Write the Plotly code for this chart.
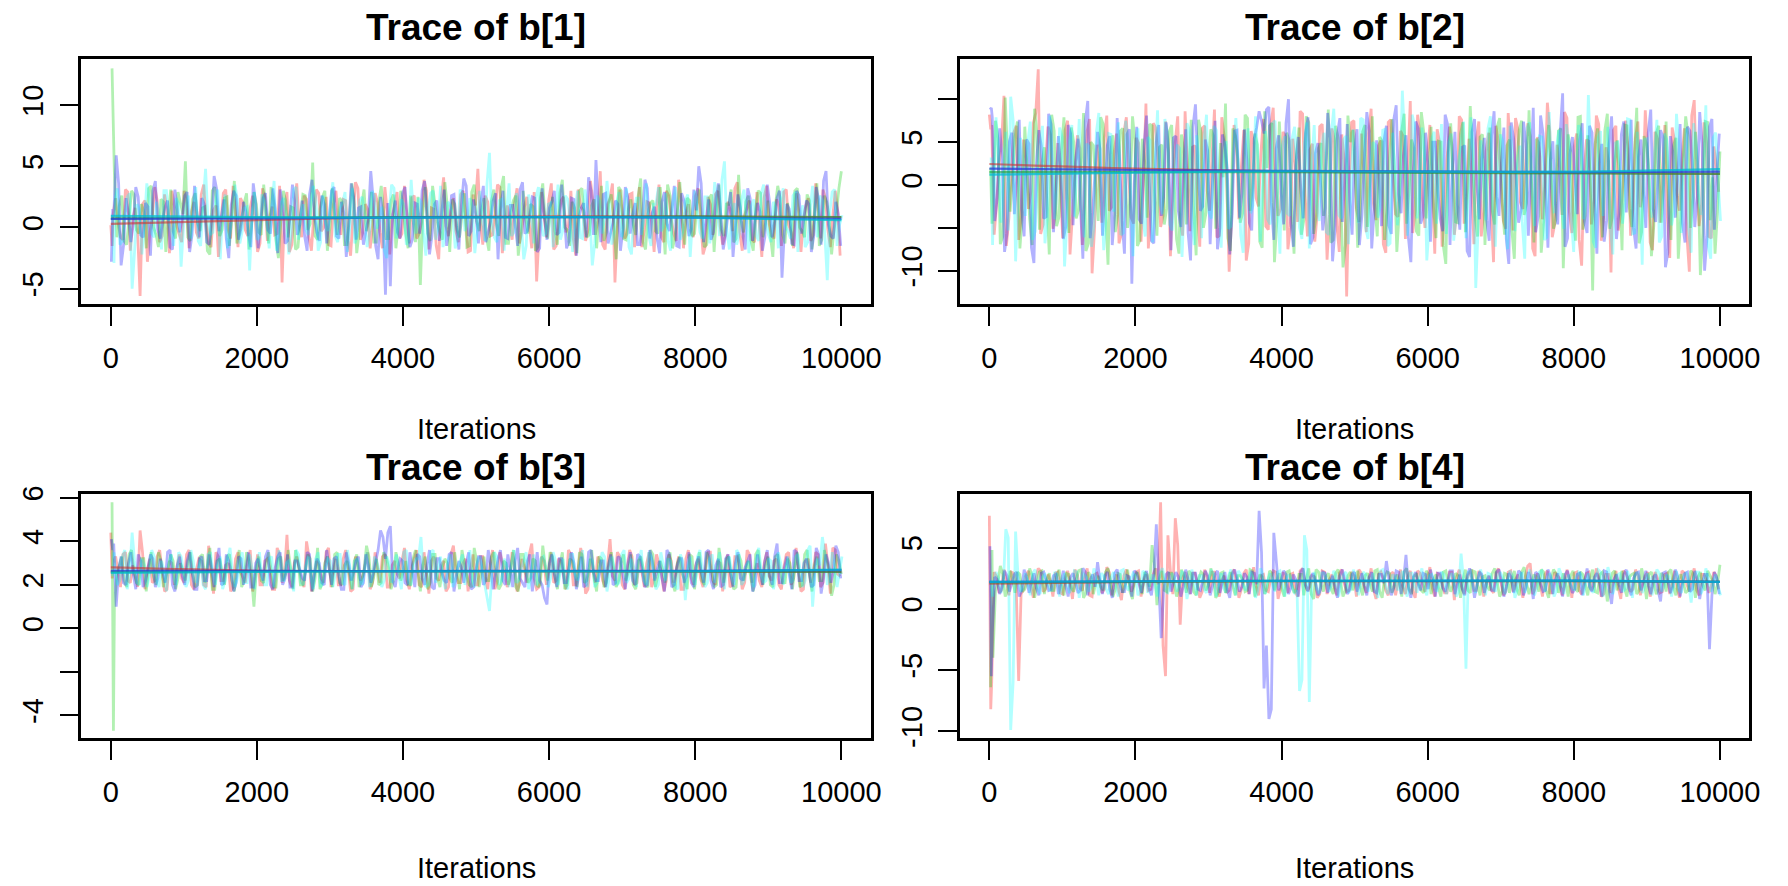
import plotly.graph_objects as go

W, H = 1788, 886

# thinned iteration positions of the stored draws (two interleaved thinning grids per chain)
base_iterations = [1, 20] + list(range(67, 10001, 67))
mid_iterations = list(range(33, 10001, 67))
chain_phase = [0, 17, 8, 25]

chain_colors = ["rgba(255,0,0,0.3)", "rgba(0,205,0,0.3)", "rgba(0,0,255,0.3)", "rgba(0,255,255,0.3)"]
smooth_colors = ["rgba(205,50,50,0.6)", "rgba(20,160,60,0.6)", "rgba(0,190,210,0.75)", "rgba(40,60,220,0.75)"]
smooth_order = [0, 1, 3, 2]

# ---------------- b[1] ----------------
b1_chain1 = [0.2, -1.5, 2.4, -0.8, 3.1, -1.9, 1.6, -5.6, 2.2, -0.4, 3.3, -1.2, 2.7, -2.1, 1.8, -0.6,
             3.0, -1.7, 2.1, -0.9, 3.5, -1.3, 1.4, -2.4, 2.8, -0.2, 3.4, -1.6, 2.0, -0.7, 2.6,
             -2.0, 3.2, -1.1, 1.7, -0.5, -4.5, 2.9, -1.4, 3.6, -0.8, 2.3, -1.9, 3.1, -0.3, 2.5,
             -1.5, 3.0, -0.6, 2.2, -2.3, 3.7, -1.0, 1.9, -1.7, 2.8, -0.4, 3.3, -2.2, 2.0, -0.9,
             3.4, -1.3, 2.6, -0.5, 3.9, -1.8, 1.5, -2.6, 4.1, -0.7, 2.4, -1.2, 3.0, -2.0, 2.7,
             4.8, -1.4, 2.1, -0.6, 3.5, -2.1, 1.8, -1.0, 3.2, -0.3, 2.5, -1.7, -4.4, 2.9, -0.8,
             3.6, -1.5, 2.2, -0.4, 3.0, -2.3, 1.7, -1.1, 3.8, -0.6, 4.6, -1.8, 2.4, -4.5, 3.1,
             -0.9, 2.7, -1.6, 3.3, -0.2, 2.0, -2.0, 3.5, -1.2, 2.6, -0.5, 3.9, -1.7, 1.9, -0.8,
             3.2, -2.2, 2.5, -0.6, 3.0, -1.4, 2.1, -0.3, 3.7, -1.9, 1.6, -1.0, 2.9, -2.4, 3.4,
             -0.7, 2.3, -1.5, 3.1, -0.4, 2.8, -2.0, 1.8, -1.1, 3.6, -0.9, 2.4, -1.6, 3.0, -2.3]
b1_chain1_mid = [1.1, 0.4, -1.0, 2.9, 0.7, -0.3, 1.9, -2.8, 0.9, 2.2, -0.7, 1.4, 3.0, 0.1, -1.2,
                 2.0, 1.3, -0.4, 2.7, 0.5, -1.6, 1.8, 0.2, 3.1, -0.9, 1.0, 2.4, -0.2, 1.6, 0.6,
                 -1.3, 2.5, 0.9, -0.6, 3.4, 1.2, -2.0, 1.7, 0.3, 2.6, -0.8, 1.1, 2.8, 0.0, -1.4,
                 1.9, 0.6, 2.3, -1.1, 0.8, 3.2, -0.4, 1.5, 0.2, 2.1, -1.7, 1.3, 0.7, 2.9, -0.5,
                 1.0, 2.4, -0.9, 0.4, 3.0, 1.6, -1.5, 2.2, 0.1, 1.4, -0.3, 2.7, 0.9, -1.9, 1.8,
                 0.5, 2.6, -0.7, 1.2, 3.3, -0.1, 0.8, 2.0, -1.3, 1.7, 0.3, 2.9, -0.6, 1.1, 2.3,
                 -1.8, 0.9, 2.5, 0.2, -0.9, 3.1, 1.4, -0.2, 2.2, 0.6, -1.4, 1.9, 3.6, 0.0, 1.3,
                 -0.5, 2.8, 1.0, -1.6, 2.1, 0.4, 1.6, -0.8, 3.0, 0.7, -1.1, 2.3, 1.2, -0.3, 2.6,
                 0.8, -1.5, 1.9, 2.7, 0.1, -0.7, 1.5, 3.2, -0.4, 1.0, 2.2, -1.2, 0.6, 2.5, 0.3,
                 -0.9, 1.8, 2.9, 0.2, -1.7, 1.3, 0.7, 2.4, -0.6, 1.6, 3.1, -0.2, 0.9, 1.4]
b1_chain2 = [13.0, 5.6, -0.8, 2.6, -1.4, 3.0, -0.2, 1.9, -1.7, 3.4, -0.6, 2.3, -2.0, 3.1, -0.9, 2.0,
             5.4, -1.1, 2.8, -0.3, 1.7, -2.2, 3.3, -0.7, 2.4, -1.5, 3.8, -0.5, 2.0, -1.8, 2.9,
             -0.4, 3.5, -1.3, 2.2, -2.5, 3.0, -0.8, 1.6, -1.6, 2.7, -0.2, 5.3, -1.0, 2.5, -1.9,
             3.2, -0.6, 2.1, -1.4, 3.6, -2.1, 1.8, -0.3, 2.9, -1.2, 3.4, -0.9, 2.2, -1.7, 3.0,
             -0.5, 2.6, -1.2, -4.7, 3.3, -1.1, 2.0, -0.4, 3.7, -2.0, 1.9, -0.8, 2.8, -1.5, 3.5,
             -0.3, 2.4, -1.9, 3.1, -0.7, 4.2, -1.3, 2.2, -2.3, 3.0, -0.5, 1.7, -1.6, 3.6, -0.9,
             2.5, -1.4, 3.9, -0.2, 2.1, -2.1, 3.2, -0.8, 1.8, -1.7, 3.4, -0.4, 2.7, -2.6, 3.0,
             -1.0, 2.3, -0.6, 4.0, -1.8, 2.0, -0.3, 3.3, -2.2, 2.6, -0.9, 3.7, -1.4, 2.2, -0.5,
             3.1, -1.6, 2.4, -2.0, 3.5, -0.7, 1.9, -1.2, 4.3, -0.4, 2.6, -1.9, 3.0, -0.8, 2.2,
             -2.4, 3.4, -0.6, 2.0, -1.5, 3.2, -0.3, 2.7, -1.8, 3.6, -1.0, 2.1, -2.2, 1.2, 4.6]
b1_chain2_mid = [4.5, 1.8, -1.1, 0.6, 2.7, -0.5, 1.3, 3.2, 0.0, -1.6, 2.1, 0.8, -0.3, 2.9, 1.1,
                 -0.8, 2.3, 0.4, 1.6, -1.9, 3.0, 0.9, -0.2, 2.5, 1.4, -1.3, 0.7, 2.8, 0.1, 1.9,
                 -0.6, 1.2, 3.3, -1.0, 0.5, 2.2, 1.7, -1.8, 0.9, 2.6, 0.3, -0.7, 1.5, 3.0, -0.1,
                 1.0, 2.4, -1.4, 0.8, 1.9, -0.4, 3.1, 0.6, -1.2, 2.0, 1.3, -0.9, 2.7, 0.2, 1.6,
                 -1.7, 0.7, 2.5, 1.1, -0.5, 3.4, 0.4, -1.0, 1.8, 2.3, -0.2, 1.0, -1.6, 2.9, 0.5,
                 1.4, -0.8, 2.1, 0.3, 3.2, -1.3, 1.1, 2.6, -0.4, 0.8, 1.9, -1.9, 2.4, 0.6, 1.2,
                 -0.3, 2.8, 0.0, -1.5, 1.6, 3.0, 0.7, -0.6, 2.3, 1.0, -1.1, 2.0, 0.4, 3.3, -0.9,
                 1.5, 0.2, 2.6, -1.2, 1.1, 2.2, -0.5, 0.9, 3.5, -1.7, 1.3, 0.5, 2.4, -0.7, 1.8,
                 0.1, -1.4, 2.7, 1.2, -0.2, 1.9, 3.1, -0.9, 0.6, 2.1, -1.0, 1.5, 2.8, 0.3, -0.6,
                 1.7, 2.4, -1.3, 0.8, 3.0, 0.0, -0.8, 2.2, 1.1, -1.5, 2.6, 0.9, -0.2, 3.2]
b1_chain3 = [-2.8, 1.5, 5.9, -3.1, 2.4, -1.2, 3.3, -0.6, 2.0, -2.3, 3.8, -0.9, 1.7, -1.6, 3.1, -0.4,
             2.6, -2.0, 3.4, -0.8, 1.9, -1.4, 4.2, -0.3, 2.3, -2.5, 3.0, -1.0, 2.1, -0.5, 3.6,
             -1.7, 2.4, -0.2, 3.2, -2.1, 1.8, -1.1, 3.5, -0.6, 2.2, -1.9, 3.9, -0.4, 2.6, -1.3,
             3.0, -0.7, 2.1, -2.4, 3.6, -1.0, 1.7, -0.3, 4.6, -1.5, 2.5, -5.5, -4.8, 2.2, -0.9,
             3.3, -1.6, 2.0, -0.5, 3.8, -2.2, 1.9, -1.1, 3.1, -0.2, 2.7, -1.8, 4.0, -0.7, 2.3,
             -1.3, 3.4, -0.4, 2.2, -2.6, 3.0, -0.9, 1.8, -1.5, 3.7, -0.3, 2.5, -2.0, 3.2, -1.0,
             2.1, -0.6, 3.5, -1.7, 2.4, -2.3, 1.6, -0.8, 3.0, 5.5, -1.2, 2.8, -0.4, 2.2, -1.9,
             3.3, -0.5, 2.0, -1.4, 3.9, -0.9, 1.7, -2.1, 2.9, -0.3, 3.4, -1.6, 2.2, -0.7, 3.1,
             5.0, -1.2, 2.3, -0.4, 3.6, -1.8, 1.5, -2.4, 2.7, -0.6, 3.2, -1.1, 2.0, -1.9, 3.5,
             -0.8, 2.4, -4.1, 1.9, -1.3, 3.0, -0.5, 2.2, -2.0, 3.3, -1.4, 4.6, -0.7, 2.1, -1.5]
b1_chain3_mid = [0.9, 3.6, -1.5, 1.2, 0.3, 2.5, -0.8, 1.7, 3.0, -0.2, 0.6, 2.2, -1.8, 1.4, 0.8,
                 2.9, -0.6, 1.1, 2.4, -1.2, 0.5, 3.2, 0.9, -0.9, 1.8, 2.6, -0.1, 1.3, -1.6, 2.0,
                 0.4, 2.8, -0.5, 1.5, 3.1, -1.3, 0.8, 2.1, 0.2, -0.7, 2.7, 1.0, -1.1, 1.9, 0.6,
                 3.3, -0.9, 1.2, 0.0, 2.5, 1.6, -1.4, 0.7, 2.3, -2.6, 0.9, 2.0, 1.1, -0.4, 2.8,
                 0.3, -1.0, 1.9, 3.0, 0.6, -0.7, 2.2, 1.3, -1.5, 2.6, 0.1, 1.7, 3.4, -0.3, 0.9,
                 2.1, -1.2, 0.5, 2.8, 1.4, -0.8, 1.8, 0.2, 3.1, -0.5, 1.0, 2.4, -1.7, 0.7, 1.6,
                 3.0, -0.4, 1.3, -1.1, 2.3, 0.8, 2.0, 4.1, -0.6, 1.5, 2.7, -1.3, 0.4, 1.9, -0.2,
                 2.5, 1.0, -1.4, 0.6, 3.2, 1.2, -0.9, 2.1, 0.3, 1.7, -1.5, 2.8, 0.9, -0.1, 1.4,
                 3.6, 0.5, -1.0, 2.2, 1.1, -0.6, 2.9, 0.0, 1.6, -1.8, 2.4, 0.7, 1.3, -0.8, 2.0,
                 0.4, 3.0, -0.3, 1.5, -1.4, 2.6, 0.8, 1.9, -0.7, 2.3, 3.8, 0.2, -0.9, 1.1]
b1_chain4 = [1.0, -2.9, 3.2, -1.1, 2.5, -5.0, 1.9, -2.2, 3.6, -0.5, 2.1, -1.8, 3.0, -0.3, 2.4, -3.2,
             1.8, -0.9, 3.3, -1.5, 4.8, -0.6, 2.0, -2.6, 2.7, -0.2, 3.5, -1.3, 1.6, -3.5, 2.9,
             -0.8, 2.2, -1.7, 3.8, -0.4, 2.4, -2.2, 3.1, -1.0, 1.9, -0.6, 3.4, -1.9, 2.6, -0.3,
             3.7, -1.2, 2.0, -2.0, 3.2, -0.7, 2.5, -1.6, 3.0, -0.1, 1.7, -2.5, 3.5, -0.9, 2.3,
             -1.4, 3.9, -0.5, 2.1, -2.3, 2.8, -1.0, 3.4, -0.6, 1.8, -1.7, 3.1, -0.3, 2.4, -2.1,
             3.0, -1.1, 6.1, -0.8, 2.2, -1.9, 3.6, -0.4, 2.0, -2.6, 2.7, -1.3, 3.3, -0.7, 1.9,
             -1.6, 3.5, -0.2, 2.3, -2.0, 3.0, -0.9, 1.7, -3.1, 2.6, -0.5, 3.8, -1.4, 2.1, -0.8,
             3.2, -2.2, 2.4, -0.6, 3.6, -1.5, 1.9, -0.3, 2.8, -1.9, 3.3, -1.0, 2.2, -2.4, 3.0,
             -0.4, 2.5, -1.3, 3.7, -0.7, 5.4, -1.8, 2.0, -0.5, 3.1, -2.1, 2.3, -1.1, 3.5, -0.6,
             2.1, -1.7, 3.2, -0.3, 2.6, -2.0, 1.8, -1.2, 3.4, -0.8, 2.2, -4.3, 2.9, -1.5, 1.0]
b1_chain4_mid = [2.2, -1.4, 0.7, 2.8, -2.0, 1.5, 0.3, 2.4, -0.8, 1.1, 3.0, 0.5, -1.5, 1.9, 0.0,
                 2.6, 1.0, -1.1, 2.0, 0.6, -0.4, 3.1, 1.3, -1.7, 0.8, 2.3, -0.3, 1.7, 0.9, -1.0,
                 2.7, 0.2, 1.4, -1.9, 2.1, 0.8, -0.6, 3.3, 1.1, -0.2, 1.8, 2.5, -1.2, 0.4, 2.0,
                 -0.7, 1.6, 2.9, 0.1, -1.3, 2.2, 1.0, -0.5, 2.6, 0.6, -1.8, 1.3, 3.2, 0.3, 1.9,
                 -1.1, 0.9, 2.4, -0.4, 1.5, 3.0, 0.0, -1.6, 2.1, 1.2, -0.9, 2.7, 0.5, 1.8, -0.2,
                 1.0, 3.6, 0.4, -1.2, 2.3, 1.4, -0.7, 2.8, 0.2, -1.5, 1.7, 2.5, 0.6, -0.5, 2.0,
                 1.1, -1.0, 2.6, 0.3, 1.6, -0.8, 3.1, 0.9, -1.3, 2.2, 0.7, 1.5, -0.3, 2.9, 0.1,
                 -1.6, 1.2, 2.4, 0.5, -0.6, 1.9, 3.3, 0.0, -1.1, 2.0, 1.3, -0.4, 2.7, 0.8, 1.4,
                 -0.9, 2.5, 0.3, 1.7, 3.9, -0.2, 1.0, -1.4, 2.3, 0.6, 1.8, -0.7, 2.8, 0.4, -1.2,
                 1.6, 2.2, 0.1, -0.9, 2.9, 1.1, -1.6, 1.5, 0.7, 2.6, -0.5, 1.2, 3.1, 0.2]

# ---------------- b[2] ----------------
b2_chain1 = [8.2, 6.5, -5.8, 2.4, 10.4, -3.9, 6.1, -6.4, 5.3, -2.8, 7.2, 13.5, -4.6, 6.8, -5.1, 4.9,
             -6.2, 7.5, -3.1, 5.8, -7.0, 6.3, -10.3, 4.7, -4.4, 8.1, -2.6, 6.0, -5.7, 7.9, -3.8,
             5.5, -6.6, 9.5, -2.9, 6.7, -4.9, 7.4, -8.3, 5.1, -3.5, 8.6, -5.4, 4.6, -7.2, 6.9,
             -3.0, 8.8, -5.9, 5.6, -10.1, 7.0, -4.0, 6.4, -6.8, 5.0, -2.5, 7.7, -5.2, 9.0, -3.6,
             6.2, -7.5, 5.4, -4.3, 8.3, -6.0, 4.8, -3.2, 7.1, -8.7, 6.6, -4.7, 5.9, -13.0, 7.3,
             -2.7, 6.0, -5.5, 8.9, -4.1, 5.2, -7.9, 7.6, -3.4, 6.3, -6.3, 9.8, -2.9, 5.7, -5.0,
             7.0, -8.0, 4.9, -3.7, 6.8, -5.8, 8.0, -4.5, 5.4, -6.9, 7.4, -3.1, 6.1, -9.0, 5.0,
             -4.2, 8.4, -5.3, 6.5, -2.8, 7.2, -7.4, 5.6, -4.0, 9.6, -6.1, 4.7, -3.5, 7.8, -5.6,
             6.0, -9.4, 5.3, -4.6, 8.1, -6.5, 4.4, -10.2, 6.9, -3.3, 7.5, -5.9, 5.5, -2.6, 8.7,
             -6.7, 6.2, -4.4, 7.0, -8.5, 5.1, -3.0, 6.6, -10.1, 9.9, -4.8, 7.3, -6.0, 4.5, -0.8]
b2_chain1_mid = [7.0, -2.2, 4.8, -7.1, 1.5, 6.9, -4.0, 3.1, -0.8, 8.4, -5.7, 2.6, 5.9, -3.3, 0.4,
                 6.4, -8.1, 2.2, 4.3, -1.9, 7.7, -5.2, 0.9, 5.5, -3.0, 3.7, -6.8, 6.1, 1.1, -4.5,
                 4.9, 0.3, -7.4, 7.2, 2.8, -3.6, 5.3, -1.2, 8.0, -5.9, 1.9, 4.4, -2.5, 6.6, -0.6,
                 3.2, -6.1, 7.9, 0.8, -3.9, 5.0, 2.1, -8.8, 6.3, -1.5, 3.8, -4.8, 7.0, 0.0, -2.8,
                 5.6, -5.0, 2.5, 8.6, -1.0, 4.1, -6.6, 6.8, 1.4, -3.4, 5.2, -7.8, 3.0, -0.4, 7.5,
                 -4.3, 1.8, 6.0, -2.1, 4.6, -6.9, 7.3, 0.6, -3.7, 5.8, 2.4, -5.6, 8.2, -1.7, 3.5,
                 -0.2, 6.5, -7.2, 2.9, 4.7, -3.2, 7.6, -1.3, 1.0, 5.3, -6.0, 3.9, -2.4, 6.9, 0.5,
                 -5.1, 4.0, 7.8, -2.0, 1.6, 5.7, -8.3, 3.3, 0.2, 6.2, -4.6, 2.0, 8.5, -3.1, 4.5,
                 -6.4, 1.2, 5.1, -1.8, 7.1, -3.8, 2.7, 6.4, -5.3, 0.7, 4.2, -2.7, 7.4, -0.9, 3.6,
                 -7.6, 5.4, 1.3, -3.5, 6.7, -1.1, 3.0, -5.8, 8.1, 0.1, -2.3, 4.9, -6.2, 2.5]
b2_chain2 = [2.0, -4.5, 7.5, -6.9, 10.2, -3.1, 5.6, -7.4, 6.8, -4.0, 8.9, -5.2, 4.4, -8.1, 6.3, -3.7,
             7.9, -5.6, 5.0, -2.9, 8.4, -6.8, 4.6, -4.2, 7.1, -9.3, 5.8, -3.4, 6.6, -5.0, 8.0,
             -7.1, 5.4, -3.8, 6.9, -5.9, 4.7, -2.7, 7.0, -6.3, 5.9, -4.6, 7.6, -8.2, 6.1, -3.3,
             6.5, -5.1, 4.9, 9.5, -7.7, 5.7, -4.4, 8.2, -3.0, 6.0, -6.6, 8.6, 6.9, -9.0, 7.4,
             -5.3, 5.2, -8.0, 6.7, -4.1, 7.3, -5.7, 4.3, -3.6, 8.8, -6.4, 5.5, -9.6, 8.1, 6.4,
             -7.3, 6.2, -4.9, 8.0, -6.0, 5.1, -3.2, 7.7, -7.8, 6.4, -4.5, 5.3, -5.4, 8.5, -3.9,
             6.8, -6.2, 5.0, -9.2, 7.2, -4.3, 6.0, -5.5, 9.2, -3.7, 5.6, -7.0, 6.7, -4.6, 7.8,
             -5.8, 5.3, -8.6, 6.4, -3.5, 8.7, -6.7, 4.9, -4.2, 7.0, -5.1, 6.3, -9.7, 5.9, -3.1,
             7.9, -5.2, 5.8, -12.3, 6.6, -6.1, 8.3, -3.8, 5.2, -7.6, 6.9, -4.9, 9.0, -5.5, 4.8,
             -8.3, 6.1, -4.4, 7.4, -6.4, 5.5, -3.6, 8.0, -5.0, 6.2, -10.5, 7.4, -4.1, -8.0, 3.9]
b2_chain2_mid = [-2.0, 5.5, -6.0, 3.3, 0.8, 7.4, -3.5, 1.7, -7.0, 6.0, 2.5, -1.6, 8.2, -4.8, 4.1,
                 -0.5, 6.7, -3.9, 2.0, -7.7, 5.0, 0.2, 7.9, -2.8, 3.6, -5.5, 6.3, 1.0, -1.4, 5.2,
                 -6.5, 2.7, 7.1, -0.9, 4.4, -4.6, 6.2, 0.6, -8.0, 3.9, 1.4, -2.9, 7.6, -5.0, 2.3,
                 5.8, -1.7, 0.9, -6.2, 6.6, 3.1, -3.3, 7.8, -0.3, 4.7, -7.3, 2.0, 7.2, -4.2, 1.6,
                 6.1, -2.5, 3.5, -5.8, 8.0, 0.0, -3.7, 4.9, 2.2, -6.7, 6.9, -1.2, -7.0, 5.0, 1.3,
                 -4.0, 7.0, 0.5, -2.2, 5.6, -6.4, 3.0, 1.9, -3.1, 8.3, -0.7, 4.3, -5.9, 6.2, 0.8,
                 -2.6, 5.1, -7.1, 3.8, 1.2, -4.4, 7.3, -0.1, 2.8, -6.0, 5.9, 0.4, -3.0, 6.8, -1.8,
                 4.6, -5.3, 2.4, 7.5, -2.1, 0.7, 5.4, -7.9, 3.2, 1.5, -4.0, 6.6, -0.6, 3.9, -6.5,
                 8.0, -3.6, 1.1, 4.8, -1.0, 6.4, -5.1, 2.6, 0.3, 7.0, -2.7, 3.4, -6.8, 5.7, 1.8,
                 -4.7, 6.9, 0.0, -2.4, 4.5, -8.6, 3.1, 5.8, -1.5, 2.1, -5.6, 7.3, 0.9, -3.2]
b2_chain3 = [8.8, 9.0, -4.2, 6.6, -7.8, 5.1, -3.4, 7.6, -6.0, 4.8, -9.1, 6.4, -3.9, 8.3, -5.5, 5.7,
             -6.3, 7.0, -4.7, 5.4, -8.6, 9.8, -3.2, 6.2, -5.9, 4.6, -7.0, 7.8, -4.1, 5.9, -11.5,
             6.8, -4.5, 8.1, -6.5, 5.0, -3.6, 7.3, -7.6, 5.7, -4.9, 6.5, -8.8, 9.4, -3.0, 5.3,
             -6.9, 7.5, -5.0, 4.7, -8.1, 6.3, -3.8, 6.5, -4.4, 5.4, 8.6, 6.0, 9.1, -6.4, 5.8,
             -4.6, 10.0, -7.2, 5.6, -3.9, 7.9, -6.1, 4.9, -5.3, 8.4, -8.9, 6.0, -4.3, 7.1, -5.8,
             6.5, -3.5, 8.5, -7.4, 5.2, -4.8, 6.9, -5.7, 9.3, -3.3, 5.8, -9.0, 7.4, -4.5, 6.1,
             -6.6, 5.0, -3.9, 8.2, -7.0, 6.2, -5.2, 4.6, -8.4, 7.7, -4.0, 5.5, -6.5, 8.6, -3.6,
             6.7, -9.2, 5.4, -4.4, 7.4, -5.9, 9.0, -3.7, 6.0, -7.3, 5.1, -4.6, 10.7, -6.2, 5.6,
             -3.4, 7.2, -5.6, 6.1, -8.0, 4.8, -4.1, 8.0, -6.3, 5.9, -3.2, 7.6, -7.4, 5.3, -5.0,
             8.8, -4.3, 6.4, -9.6, 5.7, -3.8, 7.1, -6.7, 6.3, -4.9, 8.5, -10.0, 6.8, -5.2, 6.0]
b2_chain3_mid = [7.9, -1.5, 3.4, -5.7, 6.1, 0.9, -2.8, 5.3, -7.3, 2.4, 4.6, -3.7, 7.1, -0.2, 1.5,
                 -4.9, 6.0, 2.7, -2.3, 7.4, -6.2, 1.6, 4.2, -0.9, 5.7, -3.4, 3.1, -8.0, 6.5, 0.1,
                 -4.0, 4.6, 1.2, -6.8, 7.0, -1.4, 3.8, 5.5, -3.0, 0.6, -5.6, 6.8, 2.0, -2.5, 4.0,
                 0.4, -7.5, 5.9, 1.8, -3.4, 6.4, -1.0, 2.9, -5.3, 6.7, 7.5, 8.8, -2.0, 4.3, -0.8,
                 7.2, -4.4, 2.3, -0.2, 6.0, -6.9, 3.7, 1.0, -2.6, 5.4, -5.2, 7.8, 0.5, -1.7, 4.1,
                 -7.0, 2.9, 6.3, -2.9, 0.8, 5.1, -4.7, 7.6, -1.1, 3.4, -6.1, 1.7, 6.6, -3.6, 2.2,
                 5.0, -0.5, -5.4, 7.1, 1.9, -2.2, 4.4, -7.7, 6.2, 0.0, 3.0, -4.1, 5.8, -1.3, 2.6,
                 -6.3, 7.3, 0.7, -3.0, 4.9, 1.4, -5.5, 8.1, -0.4, 2.8, -2.1, 6.0, -7.2, 3.6, 1.1,
                 5.2, -4.3, 6.9, -1.6, 2.5, -6.6, 4.7, 0.3, -3.3, 7.4, 1.8, -5.0, 3.3, -0.7, 6.1,
                 -2.8, 1.0, 5.6, -7.9, 3.9, 0.6, -4.5, 6.8, 2.3, -1.2, 4.8, -6.0, 7.7, 1.4]
b2_chain4 = [3.2, -7.0, 7.9, -4.4, 6.2, 10.3, -8.9, 5.5, -3.6, 7.4, -5.4, 4.8, -6.8, 8.1, -4.0, 6.7,
             -9.5, 5.2, -3.7, 7.7, -6.1, 4.5, -4.9, 8.4, -7.6, 6.0, -3.1, 7.3, -5.6, 4.9, -8.3,
             6.6, -4.1, 5.6, -6.7, 8.7, -3.4, 6.1, -5.3, 4.7, -8.4, 7.2, -4.3, 5.8, -6.2, 8.2,
             -3.9, 6.4, -7.3, 5.1, -4.8, 7.8, -5.9, 4.5, -3.3, 8.0, -6.6, 6.3, -4.6, 7.5, -8.0,
             5.7, -3.6, 6.8, -5.0, 4.9, -7.4, 7.0, -4.2, 6.1, -5.8, 8.9, -3.5, 5.3, -6.9, 6.5,
             -4.4, 7.6, -6.3, 5.0, -3.8, 6.4, -7.1, 6.1, -4.7, 11.0, -5.9, 8.2, -3.9, 6.7, -8.8,
             5.4, -4.5, 7.1, -5.7, 6.0, -3.4, 4.8, -6.2, 7.9, -12.0, 5.2, -4.1, 8.0, -7.2, 5.9,
             -3.7, 6.9, -5.4, 4.6, -8.6, 7.3, -4.8, 5.7, -6.4, 8.5, -3.3, 6.4, -5.1, 4.9, -7.8,
             7.0, -4.0, 10.5, -6.6, 5.5, -3.6, 6.8, -8.1, 5.0, -4.5, 7.7, -5.7, 6.2, -9.3, 5.4,
             -3.8, 7.6, -6.0, 5.3, -4.7, 8.3, -5.6, 6.6, -7.9, 4.7, -3.5, 9.3, -8.6, 6.1, -4.2]
b2_chain4_mid = [-2.5, 4.2, 0.6, -5.3, 7.6, -1.8, 2.9, 5.0, -6.4, 1.3, 6.9, -3.8, 3.5, -0.4, 5.6,
                 -4.2, 7.0, 1.4, -2.7, 4.8, -7.2, 6.1, 0.3, -3.5, 5.9, 2.1, -5.8, 7.5, -1.0, 3.0,
                 0.9, -6.0, 5.2, 2.6, -2.2, 7.7, -4.6, 1.0, 4.3, -1.6, 6.4, -7.0, 2.8, 5.1, -3.1,
                 6.9, -0.7, 2.4, -5.1, 4.0, 1.7, -7.9, 6.6, -2.4, 3.3, 0.5, -4.0, 7.2, -1.9, 4.6,
                 -3.3, 5.5, 0.1, -6.3, 7.3, 2.5, -2.0, 4.4, -5.5, 6.0, 1.2, -3.9, 5.7, -0.8, 3.1,
                 7.8, -5.0, 1.6, 4.7, -2.6, 6.5, -6.8, 2.2, 0.0, 5.3, -3.4, 7.0, -1.4, 3.8, -4.8,
                 6.2, 0.8, -3.0, 5.0, -6.5, 2.9, 7.4, -1.2, 4.1, -5.0, 1.5, 6.6, -2.9, 0.4, 5.2,
                 -7.5, 3.4, 1.9, -4.3, 6.7, -0.5, 2.7, 5.6, -6.1, 0.9, 4.5, -2.3, 7.1, -3.6, 1.8,
                 5.9, -1.7, 3.0, -7.3, 6.3, 0.2, -4.9, 4.9, 2.0, -2.0, 7.6, -5.6, 1.1, 5.3, -0.3,
                 3.7, -6.7, 6.0, 0.7, -3.2, 4.4, 1.6, -5.2, 7.2, -1.1, 2.6, -7.1, 5.5, 0.5]

# ---------------- b[3] ----------------
b3_chain1 = [4.4, 2.3, 3.3, 1.9, 3.5, 2.1, 2.4, 4.5, 1.8, 3.2, 2.2, 3.6, 1.7, 3.1, 2.0, 3.4,
             2.1, 3.6, 1.8, 3.2, 2.0, 3.8, 1.6, 3.3, 2.2, 3.0, 1.9, 3.5, 2.3, 3.1, 1.7,
             3.4, 2.0, 3.2, 1.8, 3.7, 2.1, 4.3, 1.9, 3.3, 2.2, 4.0, 1.7, 3.1, 2.3, 3.5,
             1.9, 3.2, 2.0, 3.6, 1.7, 3.3, 2.2, 3.0, 1.8, 3.5, 2.1, 3.4, 1.9, 3.1, 2.3,
             3.7, 1.8, 3.2, 2.0, 3.5, 1.6, 3.3, 2.2, 3.1, 1.9, 3.8, 2.1, 3.0, 1.7, 3.4,
             2.0, 3.3, 1.8, 3.6, 2.2, 3.1, 1.9, 3.5, 1.7, 3.2, 2.1, 3.9, 1.8, 3.3, 2.0,
             3.5, 2.2, 3.1, 1.8, 3.4, 2.0, 3.7, 1.6, 3.2, 2.1, 3.0, 1.9, 4.1, 2.2, 3.3,
             1.8, 3.6, 2.0, 3.2, 1.9, 3.5, 2.3, 3.0, 1.7, 3.4, 2.1, 3.3, 1.8, 3.6, 2.0,
             3.2, 1.9, 3.5, 2.2, 3.1, 1.7, 3.4, 2.0, 3.3, 1.8, 3.6, 2.1, 3.0, 1.9, 3.5,
             2.2, 3.2, 1.8, 3.4, 2.0, 3.7, 1.7, 3.1, 2.1, 3.5, 1.9, 3.9, 1.6, 3.6, 2.4]
b3_chain1_mid = [3.0, 2.6, 3.4, 2.2, 2.9, 1.9, 3.5, 2.7, 2.1, 3.3, 2.5, 1.8, 3.0, 2.8, 2.3,
                 3.4, 2.0, 2.7, 3.1, 1.9, 2.6, 3.5, 2.2, 2.9, 1.7, 3.2, 2.6, 2.1, 3.6, 2.4,
                 2.0, 3.1, 2.7, 1.8, 3.4, 2.5, 2.2, 3.0, 2.8, 1.9, 3.3, 2.4, 2.9, 2.1, 3.7,
                 2.6, 2.0, 3.2, 2.8, 1.8, 3.0, 2.4, 3.5, 2.1, 2.7, 3.3, 1.9, 2.9, 2.5, 3.1,
                 2.2, 2.8, 3.6, 1.9, 2.5, 3.1, 2.3, 2.9, 1.7, 3.4, 2.6, 2.1, 3.2, 2.7, 2.0,
                 3.3, 2.4, 2.9, 1.8, 3.5, 2.6, 2.2, 3.0, 2.0, 2.8, 3.4, 2.3, 1.9, 3.1, 2.7,
                 2.1, 3.2, 2.5, 3.6, 2.0, 2.8, 3.1, 1.8, 2.7, 3.3, 2.2, 2.9, 2.4, 3.5, 2.0,
                 2.8, 3.3, 2.1, 2.6, 3.0, 1.9, 3.4, 2.5, 2.2, 3.1, 2.7, 1.8, 3.2, 2.4, 2.9,
                 2.3, 2.7, 3.5, 2.0, 3.0, 2.5, 1.9, 3.3, 2.8, 2.1, 3.4, 2.6, 2.2, 3.0, 2.4,
                 3.1, 2.0, 2.8, 3.5, 2.3, 2.7, 1.8, 3.2, 2.6, 3.4, 2.1, 2.9, 3.7, 2.5]
b3_chain2 = [5.8, -4.7, 2.5, 3.3, 1.9, 3.6, 2.1, 3.2, 1.7, 3.5, 2.0, 3.1, 2.3, 3.4, 1.8, 3.0,
             2.2, 3.5, 1.9, 3.3, 2.1, 3.7, 1.8, 3.2, 2.0, 3.4, 1.7, 3.6, 2.2, 3.1, 1.0,
             3.3, 2.1, 3.5, 1.9, 3.2, 2.2, 3.6, 1.8, 3.1, 2.0, 3.4, 1.7, 3.7, 2.1, 3.3,
             1.9, 3.5, 2.0, 3.1, 1.8, 3.4, 2.2, 3.8, 1.9, 3.2, 2.1, 3.3, 1.8, 3.5, 2.2,
             3.1, 2.0, 3.6, 1.7, 3.3, 2.1, 3.4, 1.9, 3.2, 2.3, 3.5, 1.8, 3.0, 2.0, 3.7,
             1.9, 3.3, 2.2, 3.5, 1.8, 3.1, 2.0, 3.6, 1.7, 3.4, 2.1, 3.2, 1.9, 3.8, 2.2,
             3.3, 1.8, 3.5, 2.0, 3.1, 1.9, 3.4, 2.2, 3.6, 1.7, 3.2, 2.1, 3.5, 1.9, 3.0,
             2.2, 3.4, 1.8, 3.3, 2.0, 3.6, 1.9, 3.1, 2.1, 3.5, 1.7, 3.3, 2.2, 3.4, 1.8,
             3.5, 2.0, 3.2, 1.9, 3.7, 2.1, 3.3, 1.8, 3.4, 2.2, 3.1, 1.7, 3.6, 2.0, 3.3,
             1.9, 3.4, 2.1, 3.2, 1.8, 3.5, 2.0, 3.6, 1.7, 3.3, 2.2, 3.1, 1.5, 3.4, 2.5]
b3_chain2_mid = [1.0, 2.9, 2.2, 3.4, 2.6, 2.0, 3.2, 2.7, 2.4, 3.5, 1.9, 2.8, 3.1, 2.3, 2.7,
                 3.0, 2.5, 2.0, 3.4, 2.8, 1.8, 3.1, 2.6, 3.3, 2.2, 2.9, 1.9, 3.5, 2.4, 2.7,
                 2.2, 3.0, 2.7, 1.9, 3.3, 2.5, 2.8, 3.6, 2.0, 2.6, 3.2, 2.3, 1.8, 3.0, 2.6,
                 3.4, 2.1, 2.9, 2.5, 3.1, 1.9, 2.7, 3.3, 2.4, 2.0, 3.5, 2.8, 2.2, 3.0, 2.6,
                 2.0, 3.2, 2.6, 2.9, 1.8, 3.4, 2.3, 2.8, 3.0, 2.1, 2.7, 3.6, 2.4, 1.9, 3.1,
                 2.7, 2.2, 3.3, 2.5, 2.0, 3.0, 2.8, 1.9, 3.4, 2.6, 2.3, 3.1, 2.0, 2.9, 3.5,
                 2.4, 2.9, 1.8, 3.2, 2.6, 3.5, 2.1, 2.8, 2.3, 3.3, 1.9, 3.0, 2.7, 2.2, 3.4,
                 2.6, 2.0, 3.1, 2.8, 1.9, 3.4, 2.4, 2.7, 3.2, 2.1, 3.0, 2.5, 1.8, 3.3, 2.8,
                 2.2, 3.5, 2.6, 2.0, 2.9, 3.2, 2.4, 1.9, 3.1, 2.7, 2.3, 3.4, 2.5, 2.9, 2.0,
                 3.3, 2.6, 2.1, 3.0, 2.8, 1.9, 3.4, 2.4, 2.9, 2.2, 3.6, 2.7, 2.0, 3.1]
b3_chain3 = [4.1, 3.6, 1.0, 3.3, 2.0, 3.5, 1.8, 3.1, 2.2, 3.4, 1.9, 3.2, 2.1, 3.6, 1.7, 3.3,
             2.0, 3.5, 1.8, 3.2, 2.2, 3.4, 1.9, 3.7, 2.1, 3.1, 1.7, 3.3, 2.0, 3.5, 1.9,
             3.2, 2.2, 3.6, 1.8, 3.3, 2.0, 3.4, 1.9, 3.1, 2.3, 3.5, 1.7, 3.2, 2.1, 3.6,
             2.0, 3.3, 1.8, 3.5, 2.2, 3.1, 1.9, 3.4, 2.1, 3.0, 4.5, 3.2, 4.7, 1.9, 3.2,
             2.1, 3.5, 1.9, 3.3, 2.0, 3.6, 1.8, 3.2, 2.2, 3.4, 1.7, 3.1, 2.1, 3.5, 1.9,
             3.3, 2.0, 3.6, 1.8, 3.2, 2.2, 3.4, 1.9, 3.7, 2.1, 3.1, 1.7, 3.5, 2.0, 1.1,
             3.4, 1.9, 3.2, 2.1, 3.5, 1.8, 3.3, 2.0, 3.6, 2.2, 3.1, 1.9, 3.4, 2.1, 3.2,
             1.8, 3.5, 2.0, 3.3, 1.9, 3.6, 2.2, 3.1, 1.7, 3.4, 2.0, 3.2, 2.1, 3.5, 1.9,
             3.3, 2.1, 3.6, 1.8, 3.2, 2.0, 3.4, 1.9, 3.5, 2.2, 3.1, 1.7, 3.4, 2.0, 3.6,
             2.0, 3.9, 2.1, 3.3, 1.8, 3.5, 2.2, 3.2, 1.9, 3.7, 1.6, 3.4, 2.1, 3.8, 2.3]
b3_chain3_mid = [3.9, 2.7, 2.1, 3.0, 2.5, 3.4, 1.9, 2.8, 3.2, 2.3, 2.6, 3.5, 2.0, 2.9, 2.4,
                 3.1, 2.6, 1.8, 3.3, 2.2, 2.8, 3.0, 2.0, 3.4, 2.5, 2.1, 3.2, 2.7, 1.9, 3.0,
                 2.6, 3.3, 2.0, 2.8, 3.5, 2.3, 1.9, 3.1, 2.7, 2.2, 3.4, 2.5, 3.0, 2.0, 2.8,
                 3.2, 2.4, 1.8, 3.0, 2.6, 3.3, 2.1, 2.9, 2.5, 3.6, 4.2, 4.4, 2.2, 2.7, 3.1,
                 2.0, 2.8, 3.4, 2.3, 2.9, 1.9, 3.2, 2.6, 2.1, 3.5, 2.4, 2.8, 3.0, 1.8, 2.7,
                 3.3, 2.2, 2.9, 2.5, 3.6, 2.0, 2.7, 3.1, 2.3, 1.9, 3.4, 2.6, 2.2, 1.4, 3.0,
                 2.5, 3.2, 2.1, 2.8, 3.0, 2.4, 1.9, 3.5, 2.6, 2.2, 3.1, 2.8, 2.0, 3.3, 2.5,
                 2.9, 2.2, 3.4, 2.6, 2.0, 3.1, 2.7, 2.3, 3.6, 1.9, 2.8, 3.2, 2.4, 2.1, 3.0,
                 2.6, 3.5, 2.2, 2.9, 1.9, 3.2, 2.5, 3.0, 2.3, 2.8, 3.4, 2.0, 2.7, 3.1, 2.4,
                 3.3, 2.1, 2.8, 2.5, 3.6, 2.2, 3.0, 2.7, 2.0, 3.4, 2.3, 3.0, 2.6, 3.5]
b3_chain4 = [2.4, 3.5, 2.0, 3.3, 1.8, 4.4, 2.1, 3.2, 1.9, 3.6, 2.2, 3.1, 1.7, 3.4, 2.0, 3.3,
             1.9, 3.6, 2.1, 3.2, 1.8, 3.5, 2.0, 3.3, 2.2, 3.7, 1.9, 3.1, 2.1, 3.4, 1.8,
             3.5, 2.0, 3.2, 1.9, 3.6, 2.2, 3.1, 1.7, 3.4, 2.0, 3.3, 1.8, 3.5, 2.1, 3.2,
             1.9, 3.4, 2.1, 3.6, 1.8, 3.2, 2.0, 3.5, 2.2, 3.1, 1.9, 3.3, 2.1, 3.4, 1.8,
             3.6, 2.0, 3.2, 4.2, 1.9, 3.5, 2.1, 3.3, 1.8, 3.4, 2.2, 3.1, 2.0, 3.6, 1.9,
             3.3, 2.1, 0.8, 3.5, 2.0, 3.2, 1.9, 3.6, 2.2, 3.1, 1.8, 3.4, 2.1, 3.3, 1.9,
             3.5, 2.0, 3.2, 1.8, 3.4, 2.2, 3.6, 1.9, 3.1, 2.1, 3.5, 1.7, 3.3, 2.0, 3.4,
             2.1, 3.2, 1.9, 3.6, 2.0, 3.3, 1.8, 3.5, 2.2, 3.1, 1.9, 3.4, 1.3, 3.3, 2.0,
             3.6, 1.9, 3.2, 2.1, 3.5, 1.8, 3.3, 2.0, 3.4, 2.2, 3.1, 1.9, 3.7, 2.1, 3.2,
             1.8, 3.5, 2.0, 3.3, 2.2, 3.4, 1.9, 3.6, 1.0, 3.2, 4.2, 2.0, 3.5, 1.9, 3.3]
b3_chain4_mid = [2.8, 2.2, 3.6, 2.5, 3.1, 2.0, 2.9, 2.4, 3.3, 1.9, 2.7, 3.0, 2.3, 3.5, 2.6,
                 2.2, 3.1, 2.7, 2.0, 3.4, 2.5, 2.9, 1.8, 3.2, 2.6, 2.3, 3.5, 2.1, 2.8, 3.0,
                 2.4, 2.0, 3.3, 2.7, 2.2, 3.0, 2.6, 3.6, 2.1, 2.9, 2.4, 3.2, 1.9, 2.8, 3.1,
                 2.5, 3.4, 2.0, 2.8, 3.1, 2.3, 2.7, 1.9, 3.3, 2.6, 2.2, 3.0, 2.8, 2.4, 3.5,
                 2.1, 2.9, 3.2, 2.5, 2.0, 3.6, 2.7, 2.3, 3.1, 1.9, 2.8, 3.4, 2.6, 2.2, 3.0,
                 2.7, 1.6, 2.5, 3.3, 2.2, 2.9, 3.0, 2.1, 2.7, 3.5, 2.4, 2.0, 3.2, 2.8, 2.3,
                 3.1, 2.6, 2.0, 3.4, 2.5, 2.9, 2.2, 3.2, 1.9, 2.7, 3.3, 2.4, 2.8, 2.1, 3.6,
                 2.3, 2.8, 3.0, 2.2, 3.5, 2.6, 2.0, 2.9, 3.2, 2.4, 1.8, 3.1, 2.7, 2.3, 3.3,
                 2.6, 2.1, 3.4, 2.8, 2.3, 3.0, 2.5, 3.6, 2.0, 2.9, 2.4, 3.2, 2.7, 2.2, 3.1,
                 2.4, 3.0, 2.7, 2.1, 3.3, 2.6, 2.2, 3.8, 2.5, 2.9, 3.4, 2.3, 2.8, 2.6]

# ---------------- b[4] ----------------
b4_chain1 = [7.6, -8.2, 3.0, 1.3, 3.2, 1.1, 2.9, -5.9, 1.6, 3.1, 0.9, 3.3, 1.4, 2.8, 1.0, 3.0,
             1.2, 3.1, 0.8, 2.7, 1.5, 3.3, 1.0, 2.9, 1.3, 3.4, 1.1, 2.8, 0.7, 3.2, 1.4,
             3.0, 1.0, 2.8, 1.6, 3.3, 8.7, -5.5, 3.1, 7.4, -1.3, 3.0, 1.2, 2.9, 0.9, 3.2,
             1.3, 3.0, 1.0, 2.7, 1.5, 3.2, 0.9, 2.9, 1.2, 3.4, 1.1, 2.8, 1.4, 3.1, 0.8,
             3.0, 1.3, 2.9, 1.0, 3.3, 1.5, 2.7, 0.9, 3.1, 1.2, 2.8, 1.1, 3.2, 1.4, 3.0,
             1.0, 2.9, 1.3, 3.3, 0.8, 3.0, 1.5, 2.8, 1.1, 3.2, 1.2, 3.1, 0.9, 2.9, 1.4,
             3.4, 1.0, 2.8, 1.3, 3.0, 0.7, 3.2, 1.2, 2.9, 1.5, 3.1, 1.0, 2.7, 1.3, 3.3,
             1.1, 3.0, 1.4, 2.8, 0.9, 3.5, 1.2, 2.9, 1.0, 3.1, 1.3, 2.7, 1.1, 3.2, 0.9,
             3.0, 1.2, 2.9, 1.5, 3.3, 1.0, 2.8, 1.3, 3.1, 0.8, 2.9, 1.4, 3.2, 1.1, 2.7,
             1.0, 3.0, 1.3, 2.8, 1.2, 3.1, 0.9, 2.9, 1.4, 3.3, 1.1, 2.8, 1.3, 3.0, 1.6]
b4_chain1_mid = [-6.0, 2.6, 1.5, 2.3, 3.0, 2.0, 1.2, 2.7, 1.8, 2.4, 3.1, 1.6, 2.2, 2.9, 1.3,
                 2.5, 2.0, 3.2, 1.7, 2.6, 1.1, 2.8, 2.3, 1.6, 3.0, 2.1, 1.4, 2.7, 2.4, 1.9,
                 3.1, 2.2, 1.5, 2.8, 2.0, -3.0, 6.0, 1.2, 5.2, 2.5, 1.7, 2.9, 2.2, 1.4, 2.6,
                 3.0, 1.8, 2.4, 1.3, 2.9, 2.1, 1.6, 3.2, 2.3, 1.9, 2.7, 1.5, 2.5, 3.0, 1.7,
                 2.2, 2.8, 1.4, 3.1, 2.0, 1.8, 2.6, 1.2, 3.0, 2.4, 1.7, 2.9, 2.1, 1.5, 2.7,
                 3.2, 1.9, 2.3, 1.6, 2.8, 2.5, 1.1, 3.0, 2.2, 1.8, 2.6, 1.4, 3.1, 2.0, 2.4,
                 1.7, 2.9, 2.1, 1.3, 3.0, 2.6, 1.8, 2.3, 3.2, 1.5, 2.7, 2.0, 1.6, 2.9, 2.2,
                 1.4, 3.1, 2.4, 1.9, 2.6, 3.7, 1.6, 2.2, 2.8, 1.3, 3.0, 2.5, 1.8, 2.4, 2.9,
                 1.5, 2.3, 3.0, 1.9, 2.6, 1.2, 2.8, 2.1, 1.7, 3.1, 2.4, 1.6, 2.7, 2.0, 3.0,
                 1.8, 2.5, 1.4, 2.9, 2.2, 1.7, 3.1, 2.0, 2.6, 1.5, 2.8, 2.3, 1.9, 2.7]
b4_chain2 = [-6.4, 4.8, 1.4, 3.5, 1.0, 3.1, 1.3, 2.8, 1.6, 3.3, 0.9, 3.0, 1.2, 2.9, 1.5, 3.2,
             1.1, 2.8, 1.4, 3.1, 0.9, 3.0, 1.2, 2.7, 1.5, 3.3, 1.0, 2.9, 1.3, 3.2, 0.8,
             3.0, 1.2, 2.8, 5.2, 0.3, 3.1, 1.4, 2.9, 1.0, 3.2, 1.3, 2.8, 1.1, 3.0, 1.5,
             3.3, 0.9, 2.9, 1.3, 3.0, 1.1, 2.7, 1.4, 3.2, 1.0, 2.8, 1.2, 3.1, 1.5, 2.9,
             1.0, 3.1, 1.3, 2.8, 1.1, 3.3, 0.8, 3.0, 1.4, 2.9, 1.2, 3.2, 1.0, 2.7, 1.5,
             3.1, 1.1, 2.9, 1.4, 3.2, 0.9, 3.0, 1.3, 2.8, 1.0, 3.3, 1.2, 2.9, 1.5, 3.1,
             1.2, 2.8, 1.0, 3.1, 1.4, 2.9, 0.9, 3.2, 1.3, 3.0, 1.1, 2.7, 1.5, 3.3, 1.0,
             2.9, 1.3, 3.1, 1.1, 3.4, 1.2, 2.8, 1.4, 3.0, 0.9, 3.2, 1.3, 2.9, 1.0, 3.1,
             1.4, 2.8, 1.1, 3.2, 1.3, 3.0, 0.6, 2.9, 1.5, 3.1, 1.0, 2.8, 1.2, 3.3, 0.8,
             3.0, 1.2, 2.9, 1.4, 3.2, 1.1, 2.8, 1.3, 3.1, 0.9, 3.0, 1.5, 2.7, 1.2, 3.6]
b4_chain2_mid = [-4.0, 2.1, 2.8, 1.6, 2.5, 3.0, 1.4, 2.2, 2.7, 1.9, 3.1, 2.4, 1.5, 2.6, 2.0,
                 2.9, 1.7, 2.4, 3.2, 1.3, 2.6, 2.1, 1.8, 3.0, 2.3, 1.6, 2.8, 2.0, 1.4, 2.7,
                 2.2, 3.0, 1.8, 3.5, 2.5, 1.5, 2.9, 2.1, 1.7, 2.6, 3.1, 1.4, 2.4, 2.8, 1.9,
                 2.6, 1.3, 3.0, 2.2, 1.8, 2.7, 2.4, 1.5, 3.1, 2.0, 2.6, 1.7, 2.9, 2.3, 1.6,
                 3.0, 2.1, 1.6, 2.8, 2.4, 1.2, 3.2, 2.0, 2.6, 1.7, 2.9, 2.2, 1.5, 3.0, 2.3,
                 1.8, 2.7, 2.1, 3.1, 1.4, 2.5, 2.9, 1.9, 2.3, 3.0, 1.6, 2.6, 2.1, 1.3, 2.8,
                 2.4, 1.7, 3.0, 2.2, 1.9, 2.7, 2.4, 1.5, 3.1, 2.0, 2.6, 1.8, 2.9, 2.2, 1.4,
                 2.8, 2.3, 1.6, 3.0, 2.1, 1.8, 2.6, 3.2, 1.5, 2.4, 2.9, 1.9, 2.2, 2.7, 1.6,
                 3.0, 2.0, 2.5, 1.4, 2.8, 2.3, 1.9, 3.1, 2.1, 1.7, 2.6, 2.9, 1.5, 2.4, 2.8,
                 2.1, 1.6, 2.7, 3.0, 1.8, 2.4, 2.2, 1.5, 2.9, 2.6, 1.9, 3.1, 2.3, 2.0]
b4_chain3 = [5.1, -5.5, 2.6, 1.2, 3.1, 1.4, 2.8, 1.0, 3.2, 1.3, 2.9, 1.1, 3.0, 1.5, 2.7, 1.2,
             3.1, 1.0, 2.9, 1.3, 3.3, 1.1, 2.8, 3.8, 1.2, 3.0, 0.9, 3.2, 1.4, 2.7, 1.0,
             2.9, 1.3, 3.1, 1.1, 6.9, -2.4, 2.8, 1.4, 3.0, 1.0, 3.2, 1.2, 2.9, 1.5, 3.1,
             1.1, 2.8, 1.3, 3.0, 0.9, 3.2, 1.4, 2.9, 1.2, 2.9, 8.0, -6.5, -9.0, 6.2, 1.5,
             3.1, 1.2, 2.8, 1.0, 3.3, 1.4, 2.9, 1.1, 3.0, 1.3, 2.7, 0.9, 3.2, 1.2, 2.8,
             1.4, 2.9, 1.1, 3.0, 1.3, 2.8, 3.9, 1.1, 3.1, 1.2, 4.4, 0.9, 3.0, 1.5, 2.8,
             3.2, 1.0, 2.9, 1.4, 3.1, 1.2, 2.8, 1.1, 3.3, 0.9, 3.0, 1.3, 2.7, 1.5, 3.2,
             1.0, 2.9, 1.3, 3.1, 1.1, 3.0, 0.8, 2.8, 1.4, 3.2, 1.2, 2.9, 1.0, 3.1, 1.3,
             2.8, 1.1, 3.3, 1.4, 2.9, 1.0, 3.0, 0.4, 2.8, 1.3, 3.2, 1.1, 2.9, 1.5, 3.1,
             1.2, 2.8, 0.6, 3.0, 1.3, 3.2, 1.0, 2.9, 1.4, 3.1, 0.8, 2.8, -3.3, 3.0, 1.2]
b4_chain3_mid = [-2.0, 2.4, 1.8, 2.7, 2.1, 3.0, 1.5, 2.5, 2.2, 1.7, 2.9, 2.3, 1.6, 2.8, 2.0,
                 1.9, 2.6, 2.2, 1.5, 3.0, 2.4, 1.8, 2.3, 2.7, 1.6, 2.9, 2.1, 1.4, 2.6, 3.1,
                 2.0, 2.5, 1.7, 2.8, 2.2, 1.5, 3.0, 2.1, 2.6, 1.8, 2.4, 2.9, 1.6, 2.3, 2.7,
                 1.9, 3.1, 2.2, 1.6, 2.8, 2.4, 1.8, 2.6, 3.0, 2.0, 4.6, -3.0, -8.2, 4.0, 2.3,
                 2.8, 1.7, 2.4, 3.0, 1.9, 2.6, 2.2, 1.5, 2.9, 2.1, 1.8, 2.7, 2.3, 1.6, 3.0,
                 2.2, 1.9, 2.6, 1.4, 2.8, 2.1, 2.5, 1.7, 3.0, 2.3, 1.8, 2.6, 2.0, 2.9, 1.6,
                 2.4, 2.9, 1.7, 2.2, 3.1, 2.0, 1.6, 2.7, 2.4, 1.9, 2.8, 2.2, 1.5, 3.0, 2.3,
                 1.8, 2.6, 2.1, 2.9, 1.7, 2.4, 3.0, 2.0, 1.5, 2.7, 2.3, 1.9, 2.8, 2.2, 1.6,
                 2.9, 2.1, 1.8, 2.6, 2.3, 3.1, 1.6, 2.4, 2.0, 2.8, 1.7, 2.5, 3.0, 2.2, 1.9,
                 2.6, 1.5, 2.9, 2.3, 1.8, 2.7, 2.1, 3.0, 1.6, 2.4, 2.0, 2.8, 1.1, 2.5]
b4_chain4 = [2.3, 1.0, 3.0, 1.3, 6.5, -9.9, 6.3, 1.4, 2.9, 1.1, 3.2, 1.2, 2.8, 1.5, 3.0, 1.0,
             2.9, 1.3, 3.1, 0.9, 2.8, 1.4, 3.3, 1.1, 2.7, 1.2, 3.0, 1.0, 3.2, 1.5, 2.9,
             1.1, 3.1, 1.3, 2.8, 1.0, 3.3, 1.2, 2.9, 1.4, 3.0, 0.8, 3.2, 1.1, 2.7, 1.3,
             3.1, 1.0, 2.9, 1.3, 3.2, 1.1, 2.8, 1.5, 3.0, 0.9, 3.3, 1.2, 2.9, 1.4, 3.1,
             1.0, 2.8, 1.3, -6.7, 6.0, -7.6, 3.0, 1.2, 2.9, 1.4, 3.1, 1.0, 2.8, 1.3, 3.2,
             1.1, 3.0, 1.4, 2.9, 0.9, 3.2, 1.2, 2.8, 1.5, 3.1, 1.0, 2.9, 1.3, 3.3, 1.1,
             2.8, 1.4, 3.0, 1.2, 2.9, 1.0, 4.5, -4.9, 3.1, 1.3, 3.2, 1.1, 2.8, 1.4, 3.0,
             1.2, 3.1, 0.9, 2.8, 1.3, 3.2, 1.1, 3.0, 1.4, 2.9, 1.0, 3.3, 1.2, 2.8, 1.5,
             3.0, 1.1, 2.9, 1.3, 3.2, 1.0, 3.4, 1.2, 2.8, 1.4, 3.1, 0.9, 3.0, 1.3, 2.9,
             1.1, 3.2, 1.4, 2.8, 1.0, 3.1, 1.3, 2.9, 0.5, 3.0, 1.2, 3.3, 1.4, 2.8, 1.1]
b4_chain4_mid = [1.8, 2.5, 2.0, 5.8, -6.0, 2.7, 1.6, 2.3, 2.9, 1.9, 2.6, 2.2, 1.5, 2.8, 2.1,
                 2.4, 1.7, 3.0, 2.1, 2.6, 1.8, 2.3, 2.9, 1.6, 2.5, 2.0, 3.1, 1.9, 2.4, 2.7,
                 1.5, 2.8, 2.2, 1.9, 3.0, 2.4, 1.7, 2.6, 2.1, 2.9, 1.8, 2.3, 2.7, 1.6, 2.5,
                 2.9, 2.0, 1.7, 2.7, 2.4, 3.1, 1.9, 2.2, 2.6, 1.5, 2.8, 2.3, 2.0, 3.0, 2.1,
                 2.6, 1.8, 1.5, -5.8, 4.8, 2.2, 1.7, 2.9, 2.4, 1.9, 2.7, 2.1, 3.0, 1.6, 2.5,
                 2.0, 2.8, 2.3, 1.6, 3.1, 2.2, 1.9, 2.6, 2.4, 1.7, 2.9, 2.0, 2.5, 1.8, 2.7,
                 2.3, 1.9, 2.8, 2.1, 2.6, 1.4, 2.4, 3.0, 1.8, 2.5, 2.2, 2.9, 1.7, 2.3, 2.6,
                 2.0, 2.7, 1.6, 2.9, 2.2, 2.5, 1.8, 3.1, 2.1, 2.4, 1.5, 2.8, 2.3, 1.9, 2.6,
                 2.8, 2.2, 1.7, 2.5, 3.0, 1.9, 2.6, 2.1, 2.9, 1.6, 2.4, 2.7, 2.0, 1.8, 2.5,
                 2.2, 2.9, 1.8, 2.6, 2.3, 1.5, 2.8, 2.0, 2.4, 3.0, 1.7, 2.5, 2.2, 1.9]

# smoothed running means of each chain (read at these iterations)
smooth_iters = [1, 2000, 4000, 6000, 8000, 10000]
b1_smooth = [[0.3, 0.6, 0.85, 0.9, 0.9, 0.85], [0.75, 0.8, 0.85, 0.85, 0.9, 0.85],
             [0.95, 0.85, 0.8, 0.85, 0.8, 0.6], [0.7, 0.75, 0.8, 0.85, 0.8, 0.7]]
b2_smooth = [[2.45, 1.9, 1.6, 1.5, 1.4, 1.3], [1.5, 1.5, 1.5, 1.4, 1.35, 1.3],
             [1.2, 1.45, 1.6, 1.55, 1.55, 1.85], [1.9, 1.75, 1.65, 1.6, 1.5, 1.55]]
b3_smooth = [[2.8, 2.65, 2.62, 2.62, 2.6, 2.6], [2.6, 2.62, 2.63, 2.63, 2.62, 2.6],
             [2.55, 2.6, 2.62, 2.62, 2.62, 2.7], [2.65, 2.65, 2.63, 2.65, 2.65, 2.68]]
b4_smooth = [[2.05, 2.2, 2.25, 2.25, 2.25, 2.2], [2.15, 2.2, 2.25, 2.25, 2.25, 2.2],
             [2.2, 2.25, 2.28, 2.3, 2.3, 2.2], [2.2, 2.25, 2.28, 2.28, 2.3, 2.2]]

x_ticks = [0, 2000, 4000, 6000, 8000, 10000]
x_tick_text = ["0", "2000", "4000", "6000", "8000", "10000"]

panels = [
    dict(title="Trace of b[1]", smooth=b1_smooth,
         chains=[(b1_chain1, b1_chain1_mid), (b1_chain2, b1_chain2_mid),
                 (b1_chain3, b1_chain3_mid), (b1_chain4, b1_chain4_mid)],
         yticks=[-5, 0, 5, 10], ytext=["-5", "0", "5", "10"], yrange=[-6.24, 13.77],
         px=(82, 876), py=(52, 302), tshift=10),
    dict(title="Trace of b[2]", smooth=b2_smooth,
         chains=[(b2_chain1, b2_chain1_mid), (b2_chain2, b2_chain2_mid),
                 (b2_chain3, b2_chain3_mid), (b2_chain4, b2_chain4_mid)],
         yticks=[-10, -5, 0, 5, 10], ytext=["-10", "", "0", "5", ""], yrange=[-13.86, 14.7],
         px=(966, 1760), py=(52, 302), tshift=10),
    dict(title="Trace of b[3]", smooth=b3_smooth,
         chains=[(b3_chain1, b3_chain1_mid), (b3_chain2, b3_chain2_mid),
                 (b3_chain3, b3_chain3_mid), (b3_chain4, b3_chain4_mid)],
         yticks=[-4, -2, 0, 2, 4, 6], ytext=["-4", "", "0", "2", "4", "6"], yrange=[-5.03, 6.18],
         px=(82, 876), py=(496, 745), tshift=5),
    dict(title="Trace of b[4]", smooth=b4_smooth,
         chains=[(b4_chain1, b4_chain1_mid), (b4_chain2, b4_chain2_mid),
                 (b4_chain3, b4_chain3_mid), (b4_chain4, b4_chain4_mid)],
         yticks=[-10, -5, 0, 5], ytext=["-10", "-5", "0", "5"], yrange=[-10.54, 9.38],
         px=(966, 1760), py=(496, 745), tshift=5),
]

FONT = "Liberation Sans, Arial, sans-serif"
fig = go.Figure()
layout = dict(width=W, height=H, margin=dict(l=0, r=0, t=0, b=0),
              paper_bgcolor="white", plot_bgcolor="white", showlegend=False,
              font=dict(family=FONT, color="black"))
annotations = []

for i, p in enumerate(panels):
    n = "" if i == 0 else str(i + 1)
    xa, ya = "x" + n, "y" + n
    for c, (main_vals, mid_vals) in enumerate(p["chains"]):
        ph = chain_phase[c]
        pts = [(it + ph, v) for it, v in zip(base_iterations, main_vals)]
        pts += [(it + ph, v) for it, v in zip(mid_iterations, mid_vals)]
        pts.sort()
        fig.add_trace(go.Scatter(x=[q[0] for q in pts], y=[q[1] for q in pts], mode="lines",
                                 line=dict(color=chain_colors[c], width=2.8),
                                 xaxis=xa, yaxis=ya, hoverinfo="skip"))
    for c in smooth_order:
        fig.add_trace(go.Scatter(x=smooth_iters, y=p["smooth"][c], mode="lines",
                                 line=dict(color=smooth_colors[c], width=2.2, shape="spline"),
                                 xaxis=xa, yaxis=ya, hoverinfo="skip"))
    x0, x1 = p["px"]
    y0, y1 = p["py"]
    axis_common = dict(showline=True, mirror=True, linecolor="black", linewidth=2.5,
                       showgrid=False, zeroline=False, ticks="outside", ticklen=19,
                       tickwidth=2, tickcolor="black",
                       tickfont=dict(family=FONT, size=29, color="black"))
    layout["xaxis" + n] = dict(domain=[x0 / W, x1 / W], range=[-400, 10400],
                               tickvals=x_ticks, ticktext=x_tick_text,
                               anchor=ya, ticklabelstandoff=8, **axis_common)
    layout["yaxis" + n] = dict(domain=[1 - y1 / H, 1 - y0 / H], range=p["yrange"],
                               tickvals=p["yticks"], ticktext=p["ytext"], tickangle=-90,
                               anchor=xa, ticklabelstandoff=5, **axis_common)
    cx = (x0 + x1) / 2 / W
    annotations.append(dict(text="<b>" + p["title"] + "</b>", x=cx, y=1 - (y0 - p["tshift"]) / H,
                            xref="paper", yref="paper", showarrow=False,
                            xanchor="center", yanchor="bottom", borderpad=0,
                            font=dict(family=FONT, size=37, color="black")))
    ity = y1 + 128 if i < 2 else y1 + 133
    annotations.append(dict(text="Iterations", x=cx, y=1 - ity / H,
                            xref="paper", yref="paper", showarrow=False,
                            xanchor="center", yanchor="middle", borderpad=0,
                            font=dict(family=FONT, size=29, color="black")))

layout["annotations"] = annotations
fig.update_layout(**layout)
fig.write_html("out.html", config={"displayModeBar": False},
               post_script="document.body.style.margin='0px';document.body.style.overflow='hidden';")
